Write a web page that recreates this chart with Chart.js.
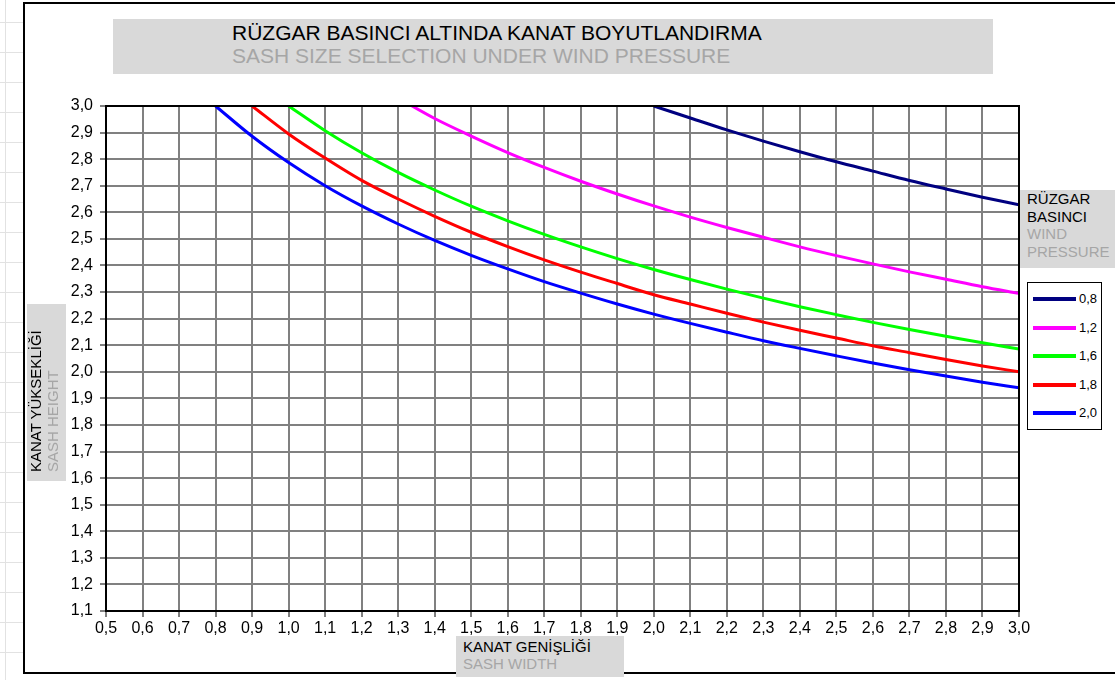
<!DOCTYPE html>
<html>
<head>
<meta charset="utf-8">
<script src="https://cdn.jsdelivr.net/npm/chart.js@4.4.1/dist/chart.umd.min.js"></script>
<style>
  html, body { margin: 0; padding: 0; background: #fff; }
  body { width: 1115px; height: 680px; position: relative; overflow: hidden; font-family: Arial, "Liberation Sans", sans-serif; }
  .sheet { position: absolute; left: 0; top: 0; width: 23px; height: 680px;
    background:
      linear-gradient(to right, transparent 5px, #e2e2e2 5px, #e2e2e2 6px, transparent 6px),
      repeating-linear-gradient(to bottom, transparent 0, transparent 22px, #e2e2e2 22px, #e2e2e2 23px, transparent 23px, transparent 30px); }
  .frame { position: absolute; left: 23px; top: 2px; width: 1100px; height: 668px; border: 2px solid #000; border-right: none; background: #fff; }
  canvas#chart { position: absolute; left: 0; top: 0; }
  .box { position: absolute; background: #d9d9d9; }
  .blk { color: #000; }
  .gry { color: #a6a6a6; }
  #title { left: 113px; top: 19px; width: 880px; height: 55px; font-size: 21px; line-height: 23px; }
  #title div { padding-left: 119px; }
  #title .blk { margin-top: 2px; }
  #ytitle { left: -42px; top: 373px; width: 177px; height: 39px; transform: rotate(-90deg); font-size: 15px; line-height: 17px; }
  #ytitle div { padding-left: 9px; }
  #ytitle .blk { margin-top: 0px; }
  #xtitle { left: 456px; top: 636px; width: 168px; height: 41px; font-size: 15px; line-height: 17px; }
  #xtitle div { padding-left: 7px; }
  #xtitle .blk { margin-top: 2px; }
  #ltitle { left: 1020px; top: 190px; width: 95px; height: 78px; font-size: 15px; line-height: 17.7px; }
  #ltitle div { padding-left: 7px; }
  #ltitle .blk:first-child { margin-top: 0px; }
  #legend { position: absolute; left: 1027px; top: 282px; width: 73px; height: 146px; border: 1px solid #000; background: #fff; font-size: 13px; }
  #legend .item { position: absolute; left: 5px; height: 15px; }
  #legend .swatch { position: absolute; left: 0; top: 6px; width: 43px; height: 4px; }
  #legend .lab { position: absolute; left: 46px; top: 0; line-height: 16px; }
</style>
</head>
<body>
<div class="sheet"></div>
<div class="frame"></div>
<canvas id="chart" width="1115" height="680"></canvas>
<div class="box" id="title"><div class="blk">RÜZGAR BASINCI ALTINDA KANAT BOYUTLANDIRMA</div><div class="gry">SASH SIZE SELECTION UNDER WIND PRESSURE</div></div>
<div class="box" id="ytitle"><div class="blk">KANAT YÜKSEKLİĞİ</div><div class="gry">SASH HEIGHT</div></div>
<div class="box" id="xtitle"><div class="blk">KANAT GENİŞLİĞİ</div><div class="gry">SASH WIDTH</div></div>
<div class="box" id="ltitle"><div class="blk">RÜZGAR</div><div class="blk">BASINCI</div><div class="gry">WIND</div><div class="gry">PRESSURE</div></div>
<div id="legend"></div>
<script>
// sash width (x) where the curves are read
const widths = [0.8, 0.9, 1.0, 1.1, 1.2, 1.3, 1.4, 1.5, 1.6, 1.7, 1.8, 1.9, 2.0, 2.1, 2.2, 2.3, 2.4, 2.5, 2.6, 2.7, 2.8, 2.9, 3.0];

// sash height per wind pressure (null = above the 3,0 limit)
const p08 = [null, null, null, null, null, null, null, null, null, null, null, null, 3.00, 2.955, 2.91, 2.868, 2.828, 2.79, 2.755, 2.72, 2.688, 2.657, 2.628];
const p12 = [null, null, null, null, null, 3.03, 2.953, 2.887, 2.825, 2.769, 2.717, 2.669, 2.624, 2.582, 2.543, 2.506, 2.47, 2.437, 2.406, 2.376, 2.348, 2.32, 2.295];
const p16 = [null, null, 3.0, 2.907, 2.824, 2.75, 2.684, 2.623, 2.568, 2.517, 2.47, 2.426, 2.385, 2.347, 2.311, 2.277, 2.245, 2.215, 2.186, 2.159, 2.134, 2.109, 2.086];
const p18 = [null, 3.0, 2.895, 2.804, 2.72, 2.65, 2.585, 2.525, 2.471, 2.421, 2.375, 2.332, 2.29, 2.255, 2.22, 2.187, 2.156, 2.127, 2.098, 2.072, 2.046, 2.022, 2.0];
const p20 = [3.0, 2.886, 2.787, 2.70, 2.624, 2.556, 2.494, 2.438, 2.387, 2.339, 2.296, 2.255, 2.217, 2.182, 2.149, 2.117, 2.088, 2.06, 2.033, 2.008, 1.984, 1.961, 1.94];

const seriesNames = ['0,8', '1,2', '1,6', '1,8', '2,0'];
const seriesColors = ['#000080', '#ff00ff', '#00ff00', '#ff0000', '#0000ff'];

const xTicks = [0.5, 0.6, 0.7, 0.8, 0.9, 1.0, 1.1, 1.2, 1.3, 1.4, 1.5, 1.6, 1.7, 1.8, 1.9, 2.0, 2.1, 2.2, 2.3, 2.4, 2.5, 2.6, 2.7, 2.8, 2.9, 3.0];
const yTicks = [1.1, 1.2, 1.3, 1.4, 1.5, 1.6, 1.7, 1.8, 1.9, 2.0, 2.1, 2.2, 2.3, 2.4, 2.5, 2.6, 2.7, 2.8, 2.9, 3.0];

const toPoints = vals => widths.map((w, i) => ({ x: w, y: vals[i] })).filter(p => p.y !== null);
const fmt = v => Number(v).toFixed(1).replace('.', ',');

const datasets = [p08, p12, p16, p18, p20].map((vals, i) => ({
  label: seriesNames[i],
  data: toPoints(vals),
  borderColor: seriesColors[i],
  backgroundColor: seriesColors[i],
  borderWidth: 3,
  pointRadius: 0,
  cubicInterpolationMode: 'monotone',
  clip: 0
}));

const frameBorder = {
  id: 'frameBorder',
  afterDraw(chart) {
    const { ctx, chartArea: a } = chart;
    ctx.save();
    ctx.strokeStyle = '#000';
    ctx.lineWidth = 2;
    ctx.strokeRect(a.left, a.top, a.right - a.left, a.bottom - a.top);
    ctx.restore();
  }
};

const gridOpts = { color: '#808080', lineWidth: 2, tickColor: '#000', tickWidth: 1, tickLength: 6 };
const tickFont = { family: 'Arial, "Liberation Sans", sans-serif', size: 16 };

const chart = new Chart(document.getElementById('chart').getContext('2d'), {
  type: 'line',
  data: { datasets },
  options: {
    responsive: false,
    animation: false,
    layout: { padding: { left: 40, right: 96, top: 106, bottom: 39 } },
    plugins: { legend: { display: false }, tooltip: { enabled: false } },
    scales: {
      x: {
        type: 'linear', min: 0.5, max: 3.0,
        grid: gridOpts,
        border: { color: '#000', width: 2 },
        ticks: { color: '#000', font: tickFont, padding: 2, maxRotation: 0, autoSkip: false, callback: fmt },
        afterBuildTicks: s => { s.ticks = xTicks.map(v => ({ value: v })); },
        afterFit: s => { s.height = 30; }
      },
      y: {
        type: 'linear', min: 1.1, max: 3.0,
        grid: gridOpts,
        border: { color: '#000', width: 2 },
        ticks: { color: '#000', font: tickFont, padding: 7, autoSkip: false, callback: fmt },
        afterBuildTicks: s => { s.ticks = yTicks.map(v => ({ value: v })); },
        afterFit: s => { s.width = 66; }
      }
    }
  },
  plugins: [frameBorder]
});

// legend box built from the datasets
const legend = document.getElementById('legend');
chart.data.datasets.forEach((ds, i) => {
  const item = document.createElement('div');
  item.className = 'item';
  item.style.top = (8 + i * 28.5) + 'px';
  item.innerHTML = '<span class="swatch" style="background:' + ds.borderColor + '"></span><span class="lab">' + ds.label + '</span>';
  legend.appendChild(item);
});
</script>
</body>
</html>
